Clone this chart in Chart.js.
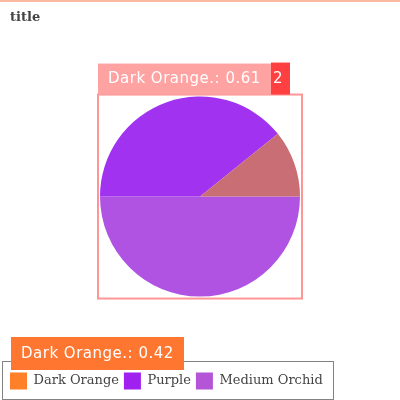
<!DOCTYPE html>
<html>
<head>
<meta charset="utf-8">
<script src="https://cdn.jsdelivr.net/npm/chart.js@4"></script>
<style>
html,body{margin:0;padding:0;background:#fff;}
#wrap{width:400px;height:400px;position:relative;}
</style>
</head>
<body>
<div id="wrap"><canvas id="c" width="400" height="400"></canvas></div>
<script>
const categories = ["Dark Orange", "Purple", "Medium Orchid"];
const values = [10.8, 39.2, 50.0];
const sliceColors = ["rgb(200,110,116)", "rgb(160,50,240)", "rgb(176,82,226)"];
const legendColors = ["rgb(255,128,40)", "rgb(160,32,240)", "rgb(180,85,215)"];
const titleText = "title";
const annotLabels = ["Dark Orange.: 0.61", "Dark Orange.: 0.42"];
const annotTag = "2";

// Chart.js draws clockwise; reverse so slices run counter-clockwise like the reference
const dsLabels = categories.slice().reverse();
const dsValues = values.slice().reverse();
const dsColors = sliceColors.slice().reverse();

const shiftTitle = {
  id: 'shiftTitle',
  afterLayout(chart) {
    if (chart.titleBlock) { chart.titleBlock.left += 5; }
  }
};

const overlay = {
  id: 'overlay',
  afterDraw(chart) {
    const ctx = chart.ctx;
    const arc = chart.getDatasetMeta(0).data[0];
    const cx = arc.x, cy = arc.y, r = arc.outerRadius;
    ctx.save();
    // top strip
    ctx.fillStyle = 'rgb(250,186,160)';
    ctx.fillRect(0, 0, 400, 2);
    // legend border
    const lg = chart.legend;
    const hb = lg.legendHitBoxes && lg.legendHitBoxes[0];
    const itemMid = hb ? hb.top + hb.height / 2 : lg.top + lg.height / 2;
    ctx.strokeStyle = 'rgb(130,130,130)';
    ctx.lineWidth = 1;
    const lt = Math.round(itemMid - 20) + 0.5;
    ctx.strokeRect(2.5, lt, 331, 38);
    // pie box
    const bx = cx - r - 2, by = cy - r - 2, bw = 2 * r + 4, bh = 2 * r + 4;
    ctx.strokeStyle = 'rgb(255,150,150)';
    ctx.lineWidth = 2;
    ctx.strokeRect(bx, by, bw, bh);
    ctx.font = '15px "DejaVu Sans"';
    try { ctx.letterSpacing = '0.5px'; } catch (e) {}
    ctx.textBaseline = 'middle';
    // label above pie box
    ctx.fillStyle = 'rgb(255,162,162)';
    ctx.fillRect(bx, by - 31, 173, 31);
    ctx.fillStyle = 'rgb(255,64,64)';
    ctx.fillRect(bx + 173, by - 32, 19, 32);
    ctx.fillStyle = '#ffffff';
    ctx.textAlign = 'left';
    ctx.fillText(annotLabels[0], bx + 10, by - 15);
    ctx.fillText(annotTag, bx + 175, by - 15);
    // orange label near legend
    ctx.fillStyle = 'rgb(255,118,48)';
    ctx.fillRect(11, 337, 173, 33);
    ctx.fillStyle = '#ffffff';
    ctx.fillText(annotLabels[1], 21, 354);
    ctx.restore();
  }
};

new Chart(document.getElementById('c'), {
  type: 'pie',
  data: {
    labels: dsLabels,
    datasets: [{
      data: dsValues,
      backgroundColor: dsColors,
      borderWidth: 0,
      radius: 100
    }]
  },
  options: {
    responsive: false,
    animation: false,
    rotation: 90,
    layout: { padding: { top: 0, bottom: 0.5, left: 5, right: 5 } },
    plugins: {
      title: {
        display: true,
        text: titleText,
        align: 'start',
        color: '#444',
        font: { family: '"DejaVu Serif"', size: 13, weight: 'bold' },
        padding: { top: 10, bottom: 0 }
      },
      legend: {
        position: 'bottom',
        align: 'start',
        reverse: true,
        labels: {
          color: '#444',
          font: { family: '"DejaVu Serif"', size: 13 },
          boxWidth: 17,
          boxHeight: 17,
          padding: 5,
          generateLabels(chart) {
            const base = Chart.overrides.pie.plugins.legend.labels.generateLabels(chart);
            base.forEach(it => {
              const i = categories.indexOf(it.text);
              it.fillStyle = legendColors[i];
              it.strokeStyle = legendColors[i];
              it.lineWidth = 0;
            });
            return base;
          }
        }
      },
      tooltip: { enabled: false }
    }
  },
  plugins: [shiftTitle, overlay]
});
</script>
</body>
</html>
